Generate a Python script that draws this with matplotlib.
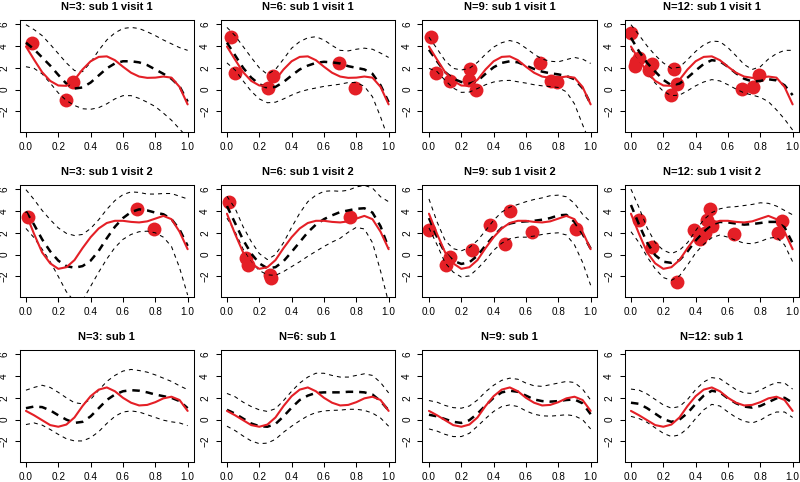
import matplotlib
matplotlib.use("Agg")
import matplotlib.pyplot as plt

plt.rcParams['font.family'] = ['Liberation Sans', 'DejaVu Sans']
plt.rcParams['lines.scale_dashes'] = False

grid_x = [0.00, 0.05, 0.10, 0.15, 0.20, 0.25, 0.30, 0.35, 0.40, 0.45, 0.50,
          0.55, 0.60, 0.65, 0.70, 0.75, 0.80, 0.85, 0.90, 0.95, 1.00]

# true curves (red)
red_visit1 = [3.95, 2.75, 1.6, 0.8, 0.38, 0.35, 0.9, 1.85, 2.6, 3.0, 3.05, 2.7, 2.1, 1.55, 1.2, 1.08, 1.1, 1.2, 1.1, 0.25, -1.35]
red_visit2 = [3.75, 1.9, 0.2, -0.8, -1.3, -1.15, -0.5, 0.6, 1.6, 2.4, 2.9, 3.1, 3.1, 3.0, 2.95, 3.05, 3.3, 3.55, 3.25, 2.1, 0.5]
red_subject = [0.8, 0.4, -0.05, -0.5, -0.65, -0.45, 0.2, 1.25, 2.15, 2.75, 2.95, 2.6, 2.0, 1.55, 1.3, 1.35, 1.6, 1.95, 2.1, 1.8, 0.8]

# row 1: sub 1 visit 1
mean_n3_v1 = [4.3, 3.7, 2.95, 2.2, 1.35, 0.55, 0.1, 0.2, 0.65, 1.3, 1.95, 2.4, 2.6, 2.6, 2.5, 2.25, 1.85, 1.45, 1.0, 0.3, -1.1]
upper_n3_v1 = [5.95, 5.5, 4.95, 4.15, 3.3, 2.45, 1.75, 1.65, 2.5, 3.6, 4.55, 5.2, 5.6, 5.7, 5.6, 5.3, 4.95, 4.55, 4.2, 3.85, 3.6]
lower_n3_v1 = [2.1, 1.95, 1.45, 0.6, -0.3, -1.0, -1.45, -1.75, -1.8, -1.65, -1.3, -0.85, -0.55, -0.55, -0.8, -1.15, -1.55, -2.15, -2.8, -3.6, -4.4]
pts_x_n3_v1 = [0.04, 0.29, 0.245]
pts_y_n3_v1 = [4.25, 0.7, -0.98]

mean_n6_v1 = [4.3, 3.15, 2.0, 1.1, 0.5, 0.18, 0.25, 0.7, 1.3, 1.85, 2.2, 2.45, 2.55, 2.5, 2.4, 2.15, 2.0, 1.85, 1.45, 0.4, -1.15]
upper_n6_v1 = [5.7, 4.95, 3.95, 2.95, 2.0, 1.4, 1.85, 2.8, 3.8, 4.4, 4.75, 4.85, 4.55, 4.05, 3.6, 3.55, 3.7, 3.8, 3.7, 3.35, 2.95]
lower_n6_v1 = [2.45, 1.8, 0.8, -0.15, -0.85, -1.2, -1.15, -0.85, -0.5, -0.2, 0.0, 0.15, 0.3, 0.4, 0.5, 0.65, 0.65, 0.3, -0.65, -2.5, -4.6]
pts_x_n6_v1 = [0.027, 0.05, 0.256, 0.287, 0.69, 0.79]
pts_y_n6_v1 = [4.86, 1.54, 0.18, 1.23, 2.46, 0.15]

mean_n9_v1 = [3.65, 2.6, 1.6, 1.0, 0.7, 0.55, 0.8, 1.45, 2.05, 2.45, 2.6, 2.5, 2.2, 1.9, 1.65, 1.5, 1.4, 1.25, 0.95, 0.15, -1.3]
upper_n9_v1 = [4.8, 3.75, 2.65, 1.95, 1.8, 1.95, 2.5, 3.25, 3.9, 4.3, 4.5, 4.3, 3.8, 3.25, 2.8, 2.6, 2.55, 2.75, 2.95, 2.8, 2.4]
lower_n9_v1 = [1.95, 1.65, 0.85, 0.15, -0.25, -0.22, 0.1, 0.45, 0.7, 0.82, 0.85, 0.72, 0.6, 0.45, 0.35, 0.28, 0.2, -0.2, -1.3, -3.2, -5.0]
pts_x_n9_v1 = [0.014, 0.045, 0.128, 0.25, 0.256, 0.29, 0.685, 0.757, 0.79]
pts_y_n9_v1 = [4.86, 1.48, 0.8, 0.86, 1.85, -0.06, 2.46, 0.75, 0.72]

mean_n12_v1 = [4.75, 3.5, 2.45, 1.65, 0.9, 0.4, 0.55, 1.1, 1.75, 2.35, 2.7, 2.6, 2.1, 1.5, 1.0, 0.75, 0.8, 0.95, 0.85, 0.4, -0.5]
upper_n12_v1 = [5.95, 5.0, 4.0, 3.15, 2.45, 1.95, 2.05, 2.75, 3.5, 4.1, 4.45, 4.4, 3.85, 3.1, 2.3, 1.85, 2.1, 2.8, 3.3, 3.6, 3.6]
lower_n12_v1 = [3.75, 2.7, 1.6, 0.6, -0.15, -0.55, -0.5, -0.1, 0.35, 0.7, 0.92, 0.8, 0.45, 0.05, -0.3, -0.5, -0.7, -1.1, -1.85, -2.7, -3.7]
pts_x_n12_v1 = [0.002, 0.025, 0.03, 0.047, 0.11, 0.13, 0.25, 0.268, 0.285, 0.687, 0.755, 0.79]
pts_y_n12_v1 = [5.17, 2.15, 2.5, 2.86, 1.8, 2.35, -0.5, 1.9, 0.55, 0.1, 0.2, 1.3]

# row 2: sub 1 visit 2
mean_n3_v2 = [3.95, 2.75, 1.4, 0.3, -0.55, -1.05, -1.2, -1.05, -0.55, 0.35, 1.5, 2.55, 3.35, 3.9, 4.15, 4.05, 3.85, 3.7, 3.25, 2.3, 0.8]
upper_n3_v2 = [5.95, 5.05, 4.05, 3.2, 2.45, 1.95, 1.75, 1.85, 2.4, 3.2, 4.15, 4.95, 5.5, 5.75, 5.7, 5.55, 5.55, 5.6, 5.6, 5.35, 5.1]
lower_n3_v2 = [2.4, 1.55, 0.5, -0.65, -2.0, -3.4, -4.3, -4.2, -2.9, -1.6, -0.4, 0.65, 1.4, 1.85, 2.1, 2.15, 2.0, 1.6, 0.75, -1.2, -3.7]
pts_x_n3_v2 = [0.014, 0.685, 0.79]
pts_y_n3_v2 = [3.43, 4.16, 2.35]

mean_n6_v2 = [4.45, 2.9, 1.35, 0.1, -0.8, -1.25, -1.15, -0.6, 0.25, 1.15, 2.05, 2.75, 3.25, 3.6, 3.9, 4.05, 4.2, 4.25, 3.85, 2.6, 0.6]
upper_n6_v2 = [5.35, 4.25, 2.55, 1.2, 0.1, -0.45, 0.0, 1.1, 2.5, 3.8, 4.85, 5.45, 5.8, 5.85, 5.8, 5.9, 6.2, 6.35, 6.1, 5.3, 4.85]
lower_n6_v2 = [3.35, 2.1, 0.5, -0.7, -1.45, -1.85, -1.9, -1.55, -1.1, -0.65, -0.15, 0.3, 0.75, 1.15, 1.5, 2.05, 2.5, 2.35, 1.1, -1.5, -4.4]
pts_x_n6_v2 = [0.01, 0.12, 0.13, 0.266, 0.27, 0.76]
pts_y_n6_v2 = [4.86, -0.34, -0.95, -1.87, -2.17, 3.43]

mean_n9_v2 = [3.35, 1.6, 0.15, -0.55, -0.85, -0.7, -0.1, 0.85, 1.7, 2.45, 2.85, 3.0, 3.05, 3.1, 3.2, 3.35, 3.6, 3.65, 3.0, 1.9, 0.55]
upper_n9_v2 = [5.1, 3.0, 1.3, 0.55, 0.35, 0.65, 1.3, 2.2, 3.15, 3.9, 4.35, 4.6, 4.85, 5.05, 5.2, 5.4, 5.45, 5.3, 4.7, 3.7, 3.0]
lower_n9_v2 = [2.45, 0.9, -0.75, -1.6, -2.05, -1.95, -1.3, -0.5, 0.4, 1.05, 1.45, 1.6, 1.6, 1.7, 1.85, 1.95, 2.0, 1.8, 0.9, -0.7, -2.8]
pts_x_n9_v2 = [0.0, 0.107, 0.128, 0.268, 0.375, 0.47, 0.5, 0.64, 0.91]
pts_y_n9_v2 = [2.26, -0.95, -0.24, 0.43, 2.72, 0.98, 4.0, 2.05, 2.35]

mean_n12_v2 = [4.55, 2.75, 1.1, -0.05, -0.65, -0.75, -0.5, 0.3, 1.3, 2.1, 2.75, 3.0, 2.95, 2.85, 2.75, 2.8, 2.9, 3.0, 3.0, 2.5, 1.05]
upper_n12_v2 = [6.0, 4.3, 2.45, 1.1, 0.4, 0.1, 0.4, 1.1, 2.2, 3.2, 3.85, 4.2, 4.35, 4.4, 4.5, 4.6, 4.75, 4.7, 4.45, 4.05, 3.65]
lower_n12_v2 = [2.1, 1.1, -0.2, -1.3, -2.1, -2.35, -1.95, -0.95, 0.15, 0.95, 1.55, 1.8, 1.6, 1.3, 1.05, 1.0, 1.2, 1.5, 1.6, 0.9, -0.65]
pts_x_n12_v2 = [0.047, 0.13, 0.285, 0.39, 0.43, 0.455, 0.47, 0.49, 0.50, 0.635, 0.91, 0.935]
pts_y_n12_v2 = [3.2, 0.7, -2.55, 2.3, 1.45, 2.0, 3.2, 4.2, 2.65, 1.85, 1.95, 3.1]

# row 3: sub 1
mean_n3_s1 = [1.05, 1.2, 1.15, 0.85, 0.4, 0.0, -0.3, -0.2, 0.3, 1.05, 1.8, 2.3, 2.6, 2.7, 2.65, 2.5, 2.3, 2.15, 2.0, 1.7, 1.05]
upper_n3_s1 = [2.7, 2.95, 3.15, 2.95, 2.5, 2.0, 1.55, 1.45, 1.85, 2.7, 3.5, 4.05, 4.45, 4.6, 4.5, 4.35, 4.1, 3.8, 3.5, 3.1, 2.75]
lower_n3_s1 = [-0.45, -0.3, -0.5, -0.9, -1.35, -1.75, -1.95, -1.95, -1.65, -1.1, -0.35, 0.3, 0.7, 0.8, 0.7, 0.45, 0.2, -0.05, -0.2, -0.3, -0.55]

mean_n6_s1 = [0.9, 0.55, 0.1, -0.35, -0.6, -0.65, -0.4, 0.3, 1.1, 1.8, 2.2, 2.45, 2.5, 2.5, 2.5, 2.55, 2.55, 2.5, 2.3, 1.7, 0.85]
upper_n6_s1 = [2.4, 2.1, 1.6, 1.2, 0.9, 0.75, 1.0, 1.75, 2.6, 3.35, 3.9, 4.25, 4.25, 4.05, 3.9, 3.9, 4.05, 4.2, 4.05, 3.4, 2.45]
lower_n6_s1 = [-0.6, -1.0, -1.5, -1.95, -2.2, -2.15, -1.8, -1.15, -0.6, -0.1, 0.35, 0.65, 0.8, 0.85, 0.87, 0.95, 0.95, 0.85, 0.6, 0.15, -0.6]

mean_n9_s1 = [0.45, 0.3, 0.05, -0.2, -0.3, -0.05, 0.55, 1.3, 2.0, 2.5, 2.65, 2.55, 2.2, 1.85, 1.7, 1.65, 1.7, 1.8, 1.85, 1.5, 0.5]
upper_n9_s1 = [1.75, 1.6, 1.3, 1.1, 1.05, 1.25, 1.8, 2.55, 3.15, 3.6, 3.8, 3.7, 3.35, 3.1, 3.05, 3.2, 3.35, 3.5, 3.4, 2.8, 1.8]
lower_n9_s1 = [-0.85, -1.05, -1.35, -1.55, -1.55, -1.25, -0.6, 0.1, 0.75, 1.2, 1.35, 1.2, 0.8, 0.5, 0.35, 0.32, 0.38, 0.45, 0.35, 0.0, -0.85]

mean_n12_s1 = [1.55, 1.45, 1.05, 0.55, 0.05, -0.2, 0.0, 0.6, 1.45, 2.2, 2.65, 2.5, 1.95, 1.5, 1.2, 1.1, 1.25, 1.6, 1.95, 2.0, 1.55]
upper_n12_s1 = [2.8, 2.7, 2.35, 1.85, 1.35, 1.05, 1.2, 1.85, 2.75, 3.45, 3.85, 3.75, 3.25, 2.75, 2.45, 2.4, 2.7, 3.1, 3.4, 3.35, 2.8]
lower_n12_s1 = [0.3, 0.1, -0.25, -0.75, -1.25, -1.55, -1.4, -0.8, 0.1, 0.9, 1.4, 1.25, 0.7, 0.2, -0.15, -0.3, -0.05, 0.4, 0.7, 0.7, 0.2]

titles = ["N=3: sub 1 visit 1", "N=6: sub 1 visit 1", "N=9: sub 1 visit 1", "N=12: sub 1 visit 1",
          "N=3: sub 1 visit 2", "N=6: sub 1 visit 2", "N=9: sub 1 visit 2", "N=12: sub 1 visit 2",
          "N=3: sub 1", "N=6: sub 1", "N=9: sub 1", "N=12: sub 1"]

x_ticks = [0.0, 0.2, 0.4, 0.6, 0.8, 1.0]
x_tick_labels = ["0.0", "0.2", "0.4", "0.6", "0.8", "1.0"]
y_ticks = [-2, 0, 2, 4, 6]
y_tick_labels = ["\u22122", "0", "2", "4", "6"]

panels = [
    (red_visit1, mean_n3_v1, upper_n3_v1, lower_n3_v1, pts_x_n3_v1, pts_y_n3_v1),
    (red_visit1, mean_n6_v1, upper_n6_v1, lower_n6_v1, pts_x_n6_v1, pts_y_n6_v1),
    (red_visit1, mean_n9_v1, upper_n9_v1, lower_n9_v1, pts_x_n9_v1, pts_y_n9_v1),
    (red_visit1, mean_n12_v1, upper_n12_v1, lower_n12_v1, pts_x_n12_v1, pts_y_n12_v1),
    (red_visit2, mean_n3_v2, upper_n3_v2, lower_n3_v2, pts_x_n3_v2, pts_y_n3_v2),
    (red_visit2, mean_n6_v2, upper_n6_v2, lower_n6_v2, pts_x_n6_v2, pts_y_n6_v2),
    (red_visit2, mean_n9_v2, upper_n9_v2, lower_n9_v2, pts_x_n9_v2, pts_y_n9_v2),
    (red_visit2, mean_n12_v2, upper_n12_v2, lower_n12_v2, pts_x_n12_v2, pts_y_n12_v2),
    (red_subject, mean_n3_s1, upper_n3_s1, lower_n3_s1, [], []),
    (red_subject, mean_n6_s1, upper_n6_s1, lower_n6_s1, [], []),
    (red_subject, mean_n9_s1, upper_n9_s1, lower_n9_s1, [], []),
    (red_subject, mean_n12_s1, upper_n12_s1, lower_n12_s1, [], []),
]

RED = '#E41F26'
W, H = 800.0, 482.0
lefts = [19.5, 220.5, 422.5, 624.5]
tops = [20.0, 185.0, 350.0]
bw, bh = 174.6, 112.0

fig = plt.figure(figsize=(8.0, 4.82), dpi=100)

for i, (red, mean, upper, lower, px, py) in enumerate(panels):
    r, c = divmod(i, 4)
    ax = fig.add_axes([lefts[c] / W, 1 - (tops[r] + bh) / H, bw / W, bh / H])
    if px:
        ax.plot(px, py, 'o', color=RED, markersize=10, markeredgewidth=0, zorder=1)
    ax.plot(grid_x, upper, color='black', lw=0.75, dashes=(2.9, 2.9), zorder=2)
    ax.plot(grid_x, lower, color='black', lw=0.75, dashes=(2.9, 2.9), zorder=2)
    ax.plot(grid_x, mean, color='black', lw=1.8, dashes=(5.4, 4.3), zorder=3)
    ax.plot(grid_x, red, color=RED, lw=1.5, zorder=4, solid_capstyle='round')
    ax.set_xlim(-0.04, 1.04)
    ax.set_ylim(-3.88, 6.38)
    ax.set_xticks(x_ticks)
    ax.set_xticklabels(x_tick_labels)
    ax.set_yticks(y_ticks)
    ax.set_yticklabels(y_tick_labels, rotation=90, va='center')
    ax.tick_params(direction='out', length=3.6, width=0.75, labelsize=7.2, pad=3.8, colors='black')
    for s in ax.spines.values():
        s.set_linewidth(0.75)
        s.set_color('black')
    ax.set_title(titles[i], fontsize=8.0, fontweight='bold', pad=7.5)

fig.savefig('out.png', dpi=100)
